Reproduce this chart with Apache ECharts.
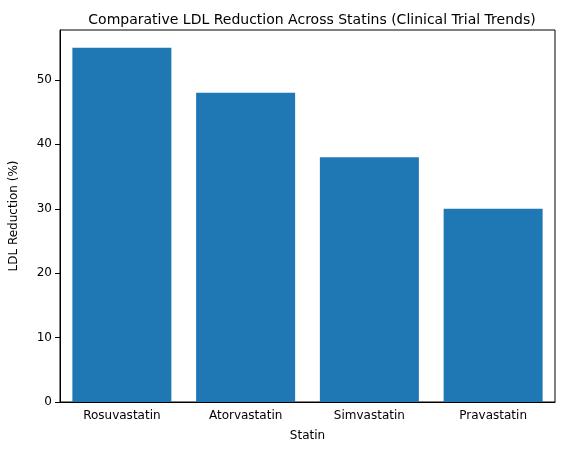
<!DOCTYPE html>
<html><head><meta charset="utf-8">
<script src="https://cdn.jsdelivr.net/npm/echarts@6/dist/echarts.min.js"></script>
<style>html,body{margin:0;padding:0;background:#fff}#c{width:580px;height:455px}</style>
</head><body><div id="c"></div>
<script>
const categories = ["Rosuvastatin","Atorvastatin","Simvastatin","Pravastatin"];
const values = [55,48,38,30];
const chart = echarts.init(document.getElementById('c'));
const font = "DejaVu Sans";
chart.setOption({
  animation:false,
  title:{text:"Comparative LDL Reduction Across Statins (Clinical Trial Trends)",left:307,top:8,textAlign:'center',
    textStyle:{fontFamily:font,fontSize:14,fontWeight:'normal',color:'#000'}},
  grid:{left:60,right:25,top:30,bottom:53,show:true,borderColor:'#000',borderWidth:1},
  xAxis:{type:'category',data:categories,name:'Statin',nameLocation:'middle',nameGap:28,
    nameTextStyle:{fontFamily:font,fontSize:12,color:'#000'},
    axisLine:{lineStyle:{color:'#000'}},axisTick:{alignWithLabel:true,lineStyle:{color:'#000'}},
    axisLabel:{fontFamily:font,fontSize:12,color:'#000'}},
  yAxis:{type:'value',min:0,max:57.75,interval:10,name:'LDL Reduction (%)',nameLocation:'middle',nameGap:40,
    nameTextStyle:{fontFamily:font,fontSize:12,color:'#000'},
    splitLine:{show:false},axisLine:{show:true,lineStyle:{color:'#000'}},axisTick:{show:true,lineStyle:{color:'#000'}},
    axisLabel:{fontFamily:font,fontSize:12,color:'#000',showMaxLabel:false}},
  series:[{type:'bar',data:values,barWidth:'80%',itemStyle:{color:'#1f77b4'}}]
});
</script></body></html>
